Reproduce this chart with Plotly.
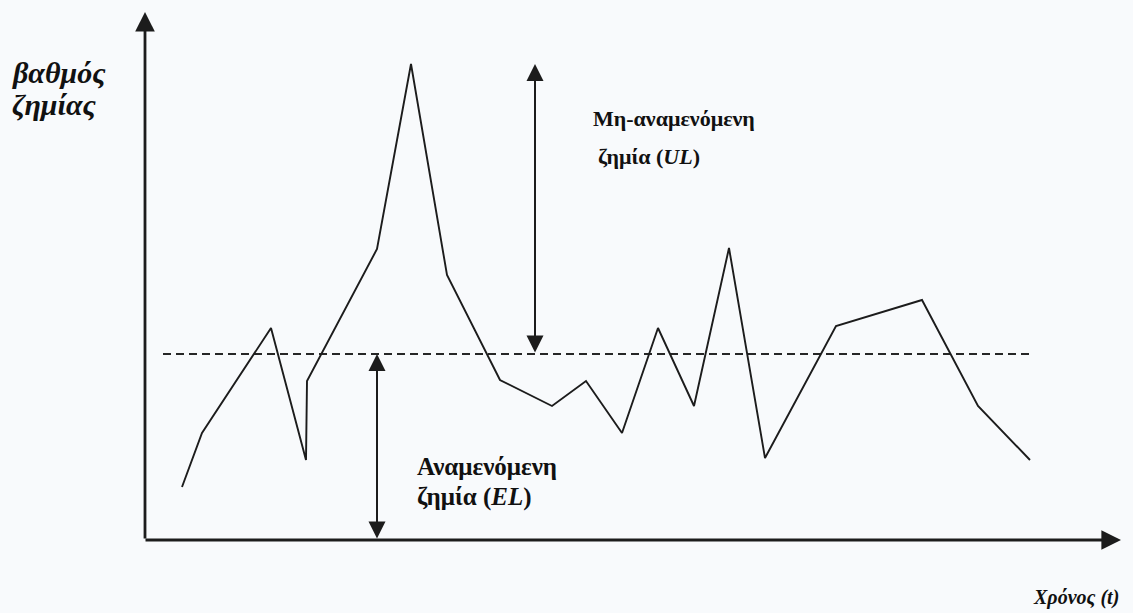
import plotly.graph_objects as go

# Time (t) and loss level (βαθμός ζημίας), arbitrary units
t_vals = [3.7, 5.7, 12.6, 16.1, 16.2, 23.2, 26.6, 30.2, 35.5, 40.7,
          44.1, 47.7, 51.3, 54.9, 58.4, 62.0, 69.1, 77.7, 83.3, 88.5]
loss_vals = [5.3, 10.7, 21.2, 8.0, 15.9, 29.1, 47.6, 26.5, 16.0, 13.4,
             15.9, 10.7, 21.2, 13.4, 29.2, 8.2, 21.4, 24.0, 13.4, 8.0]

expected_loss = 18.6          # EL level (dashed line)
el_span = [1.8, 88.7]         # horizontal extent of dashed line
el_arrow_t = 23.2             # position of EL double arrow
ul_arrow_t = 39.0             # position of UL double arrow
ul_top = 47.6                 # top of UL arrow (peak loss)
x_axis_end = 97.6
y_axis_end = 52.8

W, H = 1133, 613
BG = "#f8fafc"
INK = "#1c1c1c"
FONT = "Liberation Serif"

fig = go.Figure()

fig.add_trace(go.Scatter(
    x=el_span, y=[expected_loss, expected_loss], mode="lines",
    line=dict(color="#262626", width=1.9, dash="8px,5px"),
    hoverinfo="skip", showlegend=False))

fig.add_trace(go.Scatter(
    x=t_vals, y=loss_vals, mode="lines",
    line=dict(color=INK, width=1.9),
    showlegend=False))

def arrow(x0, y0, x1, y1, both=False, width=2.2, size=1.6):
    fig.add_annotation(
        x=x1, y=y1, ax=x0, ay=y0, xref="x", yref="y", axref="x", ayref="y",
        text="", showarrow=True, arrowhead=2, arrowsize=size, arrowwidth=width,
        arrowcolor=INK, arrowside="end+start" if both else "end",
        startarrowhead=2, startarrowsize=size, standoff=0, startstandoff=0)

# axes
arrow(0, 0, 0, y_axis_end, width=2.8, size=1.4)
arrow(-0.1, 0, x_axis_end, 0, width=2.8, size=1.4)
# double arrows
arrow(ul_arrow_t, expected_loss, ul_arrow_t, ul_top, both=True, width=2.0, size=1.7)
arrow(el_arrow_t, 0, el_arrow_t, expected_loss, both=True, width=2.0, size=1.7)

def label(text, px, py, size):
    fig.add_annotation(
        x=px / W, y=1 - py / H, xref="paper", yref="paper",
        xanchor="left", yanchor="middle", showarrow=False, text=text,
        font=dict(family=FONT, size=size, color="#111111"))

label("<b><i>βαθμός</i></b>", 10, 72, 30)
label("<b><i>ζημίας</i></b>", 10, 104, 30)
label("<b>Μη-αναμενόμενη</b>", 591, 119, 22)
label("<b>ζημία (<i>UL</i>)</b>", 596, 156, 22)
label("<b>Αναμενόμενη</b>", 415, 466, 25)
label("<b>ζημία (<i>EL</i>)</b>", 415, 497, 25)
label("<b><i>Χρόνος (t)</i></b>", 1031, 597, 20)

fig.update_layout(
    width=W, height=H, margin=dict(l=0, r=0, t=0, b=0),
    paper_bgcolor=BG, plot_bgcolor=BG,
    xaxis=dict(range=[-14.5, 98.8], visible=False, fixedrange=True),
    yaxis=dict(range=[-7.3, 54.0], visible=False, fixedrange=True),
)

fig.write_html("out.html",
               config={"displayModeBar": False, "staticPlot": True},
               post_script="document.body.style.margin='0';"
                           "document.body.style.overflow='hidden';")
